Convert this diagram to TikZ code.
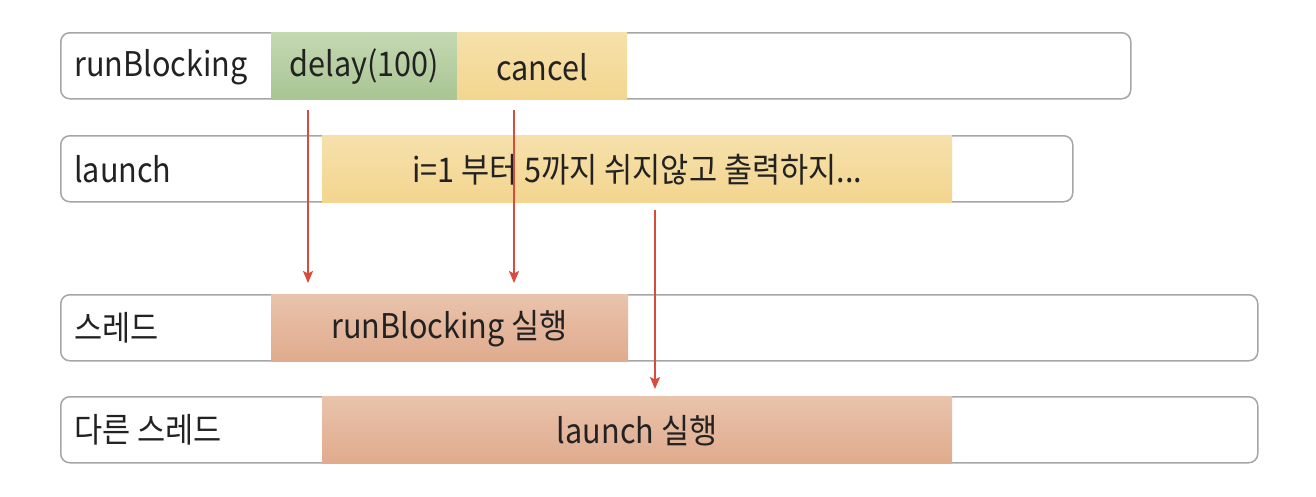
\documentclass[tikz,border=0pt]{standalone}
\usepackage{fontspec}
\setmainfont[FakeStretch=0.9]{Noto Sans CJK KR}
\usetikzlibrary{arrows.meta}
\definecolor{barline}{HTML}{A6A6A6}
\definecolor{inktext}{HTML}{222222}
\definecolor{arrowred}{HTML}{D94B3C}
\definecolor{greentop}{HTML}{C4D8B2}
\definecolor{greenbot}{HTML}{A9C593}
\definecolor{yellowtop}{HTML}{F6E1AB}
\definecolor{yellowbot}{HTML}{F3D58F}
\definecolor{orangetop}{HTML}{E9C3AC}
\definecolor{orangebot}{HTML}{E0AB8D}

\begin{document}
\begin{tikzpicture}[x=1pt,y=-1pt,
  every node/.style={text=inktext,font=\fontsize{34}{38}\selectfont,inner sep=0pt},
  bar/.style={draw=barline,line width=1.5pt,rounded corners=9pt,fill=white,anchor=north west,minimum height=66pt},
  task/.style={draw=none,anchor=north west,minimum height=67pt},
  greentask/.style={task,top color=greentop,bottom color=greenbot},
  yellowtask/.style={task,top color=yellowtop,bottom color=yellowbot},
  orangetask/.style={task,top color=orangetop,bottom color=orangebot},
  rowlabel/.style={anchor=west},
  jump/.style={draw=arrowred,line width=2pt,-{Stealth[length=12pt,width=10pt,inset=2.5pt]}}]
\useasboundingbox (0,0) rectangle (1316,496);

% rows
\node [bar,minimum width=1070pt] (blockrow) at (60,32) {};
\node [bar,minimum width=1012pt] (launchrow) at (60,135) {};
\node [bar,minimum width=1197pt] (threadrow) at (60,294) {};
\node [bar,minimum width=1197pt] (otherrow) at (60,396) {};

% tasks
\node [greentask,minimum width=186pt] (delay) at (271,32) {};
\node [yellowtask,minimum width=170pt] (cancel) at (457,32) {};
\node [yellowtask,minimum width=630pt] (loop) at (322,135) {};
\node [orangetask,minimum width=357pt] (runexec) at (271,294) {};
\node [orangetask,minimum width=630pt] (launchexec) at (322,396) {};

% texts
\node [rowlabel] (blocklbl) at (74,67) {runBlocking};
\node [rowlabel] (launchlbl) at (74,169) {launch};
\node [rowlabel] (threadlbl) at (74,328) {스레드};
\node [rowlabel] (otherlbl) at (74,430) {다른 스레드};
\node (delaytxt) at ([yshift=-1pt]delay.center) {delay(100)};
\node (canceltxt) at ([yshift=-1pt]cancel.center) {cancel};
\node (looptxt) at ([yshift=-1pt]loop.center) {i=1 부터 5까지 쉬지않고 출력하지...};
\node (runtxt) at ([yshift=-1pt]runexec.center) {runBlocking 실행};
\node (launchtxt) at ([yshift=-1pt]launchexec.center) {launch 실행};

% switches
\coordinate (d1) at (308,110);
\coordinate (d2) at (308,283);
\coordinate (c1) at (514,110);
\coordinate (c2) at (514,283);
\coordinate (l1) at (655,210);
\coordinate (l2) at (655,389);
\draw [jump] (d1) -- (d2);
\draw [jump] (c1) -- (c2);
\draw [jump] (l1) -- (l2);

\end{tikzpicture}
\end{document}
